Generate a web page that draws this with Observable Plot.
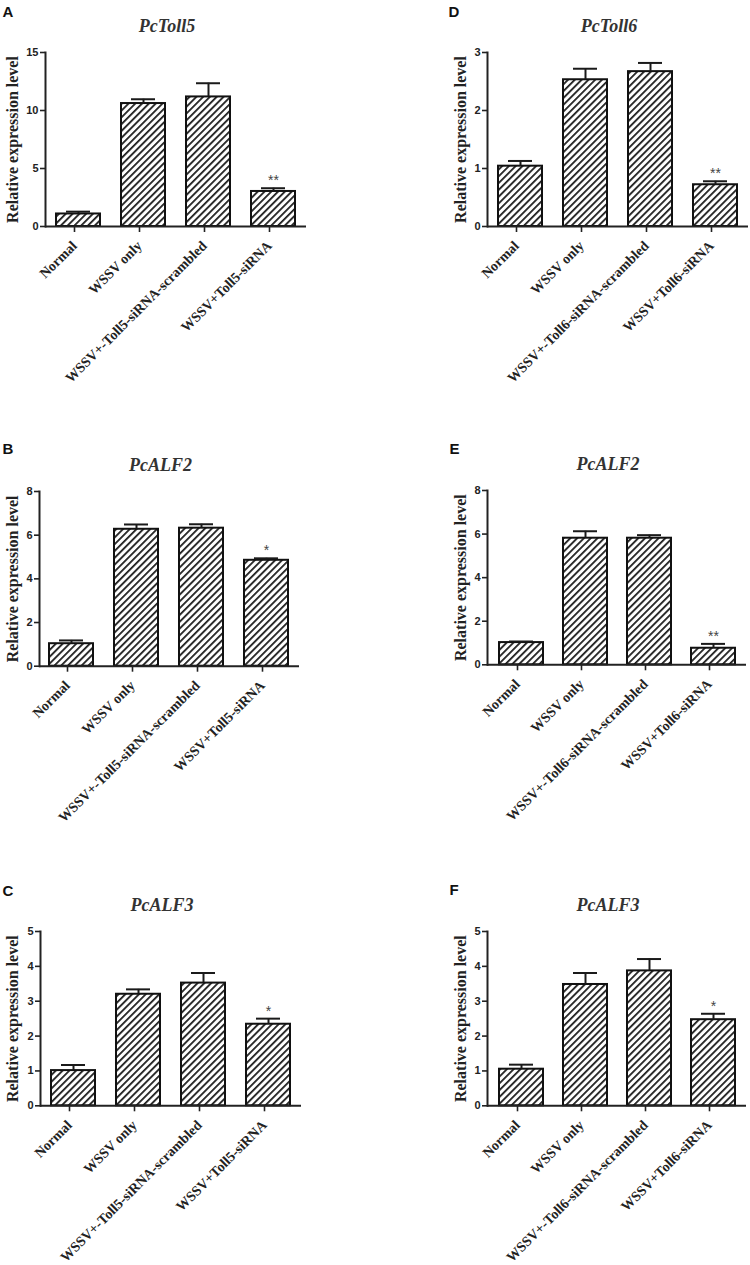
<!DOCTYPE html>
<html>
<head>
<meta charset="utf-8">
<script src="https://cdn.jsdelivr.net/npm/d3@7"></script>
<script src="https://cdn.jsdelivr.net/npm/@observablehq/plot@0.6"></script>
<style>
  html, body { margin: 0; padding: 0; background: #fff; }
  #page { position: relative; width: 750px; height: 1265px; overflow: hidden; background: #fff; }
  #page svg { position: absolute; overflow: visible; }
</style>
</head>
<body>
<div id="page"></div>
<script>
// ---------- data ----------
const groupsToll5 = ["Normal", "WSSV only", "WSSV+-Toll5-siRNA-scrambled", "WSSV+Toll5-siRNA"];
const groupsToll6 = ["Normal", "WSSV only", "WSSV+-Toll6-siRNA-scrambled", "WSSV+Toll6-siRNA"];

const meanA = [1.08, 10.60, 11.17, 3.02];   // PcToll5
const errA  = [0.20, 0.37, 1.18, 0.28];
const sigA  = ["", "", "", "**"];

const meanB = [1.03, 6.27, 6.32, 4.85];     // PcALF2 (Toll5 knockdown)
const errB  = [0.15, 0.22, 0.18, 0.09];
const sigB  = ["", "", "", "*"];

const meanC = [1.01, 3.20, 3.52, 2.34];     // PcALF3 (Toll5 knockdown)
const errC  = [0.16, 0.14, 0.29, 0.16];
const sigC  = ["", "", "", "*"];

const meanD = [1.04, 2.53, 2.67, 0.72];     // PcToll6
const errD  = [0.09, 0.19, 0.15, 0.06];
const sigD  = ["", "", "", "**"];

const meanE = [1.02, 5.81, 5.81, 0.76];     // PcALF2 (Toll6 knockdown)
const errE  = [0.05, 0.32, 0.14, 0.20];
const sigE  = ["", "", "", "**"];

const meanF = [1.05, 3.48, 3.87, 2.47];     // PcALF3 (Toll6 knockdown)
const errF  = [0.13, 0.33, 0.34, 0.17];
const sigF  = ["", "", "", "*"];

const titles  = ["PcToll5", "PcALF2", "PcALF3", "PcToll6", "PcALF2", "PcALF3"];
const letters = ["A", "B", "C", "D", "E", "F"];
const yDomainMax = [15, 8, 5, 3, 8, 5];
const yTicksA = [0, 5, 10, 15];
const yTicksB = [0, 2, 4, 6, 8];
const yTicksC = [0, 1, 2, 3, 4, 5];
const yTicksD = [0, 1, 2, 3];
const yLabel = "Relative expression level";

// ---------- layout ----------
const SERIF = "'Liberation Serif', 'Times New Roman', Times, serif";
const SANS = "'Liberation Sans', Arial, Helvetica, sans-serif";

const panels = [
  {groups: groupsToll5, mean: meanA, err: errA, sig: sigA, ticks: yTicksA, left: 0,   top: 0,   H: 420, ml: 45,  mt: 52, zero: 226,   pw: 261, lx: 2,  lb: 16, yOff: 33},
  {groups: groupsToll5, mean: meanB, err: errB, sig: sigB, ticks: yTicksB, left: 0,   top: 420, H: 420, ml: 39,  mt: 71, zero: 245.7, pw: 260, lx: 2,  lb: 33, yOff: 27},
  {groups: groupsToll5, mean: meanC, err: errC, sig: sigC, ticks: yTicksC, left: 0,   top: 840, H: 425, ml: 40,  mt: 91, zero: 265.3, pw: 261, lx: 2,  lb: 55, yOff: 28},
  {groups: groupsToll6, mean: meanD, err: errD, sig: sigD, ticks: yTicksD, left: 375, top: 0,   H: 420, ml: 112, mt: 52, zero: 226,   pw: 261, lx: 73, lb: 16, yOff: 27},
  {groups: groupsToll6, mean: meanE, err: errE, sig: sigE, ticks: yTicksB, left: 375, top: 420, H: 420, ml: 112, mt: 70, zero: 244.3, pw: 259, lx: 74, lb: 33, yOff: 27},
  {groups: groupsToll6, mean: meanF, err: errF, sig: sigF, ticks: yTicksC, left: 375, top: 840, H: 425, ml: 112, mt: 91, zero: 265.3, pw: 259, lx: 74, lb: 54, yOff: 27}
];

const page = document.getElementById("page");

panels.forEach((p, i) => {
  const data = p.groups.map((g, j) => ({group: g, mean: p.mean[j], upper: p.mean[j] + p.err[j], sig: p.sig[j]}));
  const hatchId = "hatch-" + letters[i];
  const W = 375;
  const svg = Plot.plot({
    width: W,
    height: p.H,
    marginLeft: p.ml,
    marginRight: W - p.ml - p.pw,
    marginTop: p.mt,
    marginBottom: p.H - p.zero,
    style: {background: "transparent", overflow: "visible"},
    x: {domain: p.groups, paddingInner: 0.32, paddingOuter: 0.16, label: null},
    y: {domain: [0, yDomainMax[i]], label: null},
    marks: [
      Plot.barY(data, {x: "group", y: "mean", fill: `url(#${hatchId})`, stroke: "#111", strokeWidth: 2}),
      Plot.ruleX(data, {x: "group", y1: "mean", y2: "upper", stroke: "#1a1a1a", strokeWidth: 2}),
      Plot.tickY(data, {x: "group", y: "upper", insetLeft: 10, insetRight: 10, stroke: "#1a1a1a", strokeWidth: 2}),
      Plot.text(data, {x: "group", y: "upper", text: "sig", dy: -3, lineAnchor: "bottom", fontFamily: SANS, fontSize: 14, fill: "#444"}),
      Plot.ruleY([0], {stroke: "#222", strokeWidth: 2}),
      Plot.frame({anchor: "left", stroke: "#222", strokeWidth: 2}),
      Plot.axisY({ticks: p.ticks, tickFormat: d => String(d), tickSize: 5, tickPadding: 2, stroke: "#222", strokeWidth: 1.6, fill: "#222",
                  fontFamily: SANS, fontWeight: "bold", fontSize: 11, label: null}),
      Plot.axisX({tickSize: 6, tickPadding: 11, tickRotate: -45, textAnchor: "end", lineAnchor: "middle", dx: -4,
                  stroke: "#222", strokeWidth: 1.6, fill: "#222",
                  fontFamily: SERIF, fontWeight: "bold", fontSize: 14, label: null}),
      Plot.text([yLabel], {text: d => d, frameAnchor: "left", textAnchor: "middle", lineAnchor: "middle", rotate: -90, dx: -p.yOff,
                  fontFamily: SERIF, fontWeight: "bold", fontSize: 16, fill: "#222"}),
      Plot.text([titles[i]], {text: d => d, frameAnchor: "top", dx: -9, dy: -21, lineAnchor: "bottom",
                  fontFamily: SERIF, fontWeight: "bold", fontStyle: "italic", fontSize: 18, fill: "#333"}),
      Plot.text([letters[i]], {text: d => d, frameAnchor: "top-left", textAnchor: "start", lineAnchor: "bottom",
                  dx: p.lx - p.ml, dy: p.lb - p.mt, fontFamily: SANS, fontWeight: "bold", fontSize: 15, fill: "#111"})
    ]
  });
  // hatch pattern definition
  const ns = "http://www.w3.org/2000/svg";
  const defs = document.createElementNS(ns, "defs");
  const pat = document.createElementNS(ns, "pattern");
  pat.setAttribute("id", hatchId);
  pat.setAttribute("patternUnits", "userSpaceOnUse");
  pat.setAttribute("width", "4.8");
  pat.setAttribute("height", "4.8");
  pat.setAttribute("patternTransform", "rotate(45)");
  const bg = document.createElementNS(ns, "rect");
  bg.setAttribute("width", "4.8"); bg.setAttribute("height", "4.8"); bg.setAttribute("fill", "#fff");
  const ln = document.createElementNS(ns, "line");
  ln.setAttribute("x1", "0.9"); ln.setAttribute("y1", "-1"); ln.setAttribute("x2", "0.9"); ln.setAttribute("y2", "6");
  ln.setAttribute("stroke", "#111"); ln.setAttribute("stroke-width", "1.7");
  pat.appendChild(bg); pat.appendChild(ln); defs.appendChild(pat);
  svg.insertBefore(defs, svg.firstChild);
  svg.style.left = p.left + "px";
  svg.style.top = p.top + "px";
  page.appendChild(svg);
});
</script>
</body>
</html>
